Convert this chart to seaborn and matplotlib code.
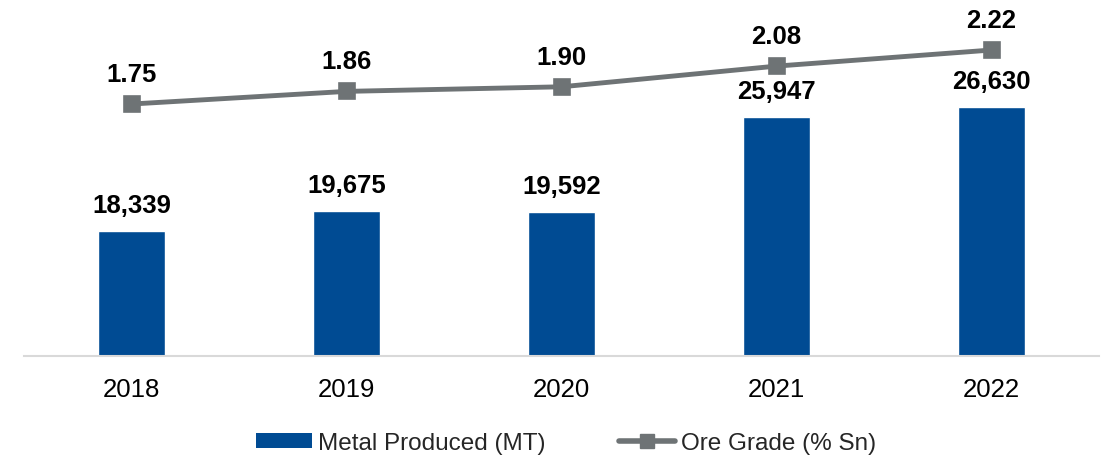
import matplotlib
matplotlib.use("Agg")
import matplotlib.pyplot as plt
import seaborn as sns
import pandas as pd
from matplotlib.patches import Patch
from matplotlib.lines import Line2D

years = ["2018", "2019", "2020", "2021", "2022"]
metal_produced = [18339, 19675, 19592, 25947, 26630]
ore_grade = [1.75, 1.86, 1.90, 2.08, 2.22]

BAR_COLOR = "#004B93"
LINE_COLOR = "#6E7375"
FONT = ["Liberation Sans", "DejaVu Sans"]

sns.set_theme(style="white")
plt.rcParams["font.family"] = FONT

df = pd.DataFrame({"year": years, "metal": metal_produced, "grade": ore_grade})

fig = plt.figure(figsize=(11.2, 4.6), dpi=100)
ax = fig.add_axes([24 / 1120, 1 - 357 / 460, 1075 / 1120, 347 / 460])

sns.barplot(data=df, x="year", y="metal", color=BAR_COLOR, width=0.31,
            saturation=1, ax=ax)
ax.set_xlim(-0.5, 4.5)
ax.set_ylim(10000, 33175)

ax2 = ax.twinx()
sns.pointplot(data=df, x="year", y="grade", color=LINE_COLOR, markers="s",
              linestyles="-", markersize=10.5, linewidth=3.5, ax=ax2)
ax2.set_xlim(-0.5, 4.5)
ax2.set_ylim(-0.443, 2.577)

for a in (ax, ax2):
    for s in a.spines.values():
        s.set_visible(False)
    a.set_ylabel("")
    a.set_xlabel("")
    a.set_yticks([])

ax.spines["bottom"].set_visible(True)
ax.spines["bottom"].set_color("#D9D9D9")
ax.spines["bottom"].set_linewidth(1.5)
ax.tick_params(axis="x", length=0, pad=15, labelsize=18.5, colors="black")
ax2.tick_params(axis="x", length=0, labelbottom=False)

# value labels above the bars
for i, v in enumerate(metal_produced):
    ax.annotate(f"{v:,}", (i, v), xytext=(0, 10), textcoords="offset points",
                ha="center", va="bottom", fontsize=18.5, fontweight="bold",
                color="black")

# value labels above the grade markers
for i, v in enumerate(ore_grade):
    ax2.annotate(f"{v:.2f}", (i, v), xytext=(0, 13), textcoords="offset points",
                 ha="center", va="bottom", fontsize=18.5, fontweight="bold",
                 color="black")

handles = [
    Patch(facecolor=BAR_COLOR, edgecolor="none"),
    Line2D([0], [0], color=LINE_COLOR, lw=4, marker="s", markersize=10.5),
]
fig.legend(handles, ["Metal Produced (MT)", "Ore Grade (% Sn)"],
           loc="center", bbox_to_anchor=(566 / 1120, 1 - 444 / 460), ncol=2,
           frameon=False, fontsize=17.5, handlelength=2.3, handleheight=0.6,
           handletextpad=0.25, columnspacing=3.0)

fig.savefig("out.png", dpi=100)
